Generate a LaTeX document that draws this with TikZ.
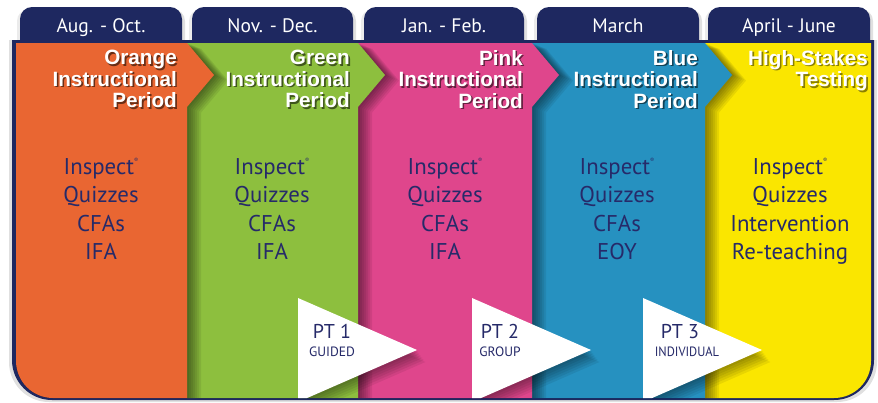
\documentclass[tikz,border=0pt]{standalone}
\usepackage{fontspec}
\setmainfont{PT Sans}
\newfontfamily\titlefont{Liberation Sans}
\definecolor{navy}{RGB}{30,40,96}
\definecolor{txtnavy}{RGB}{38,42,105}
\definecolor{corange}{RGB}{233,102,50}
\definecolor{cgreen}{RGB}{141,191,62}
\definecolor{cpink}{RGB}{223,70,140}
\definecolor{cblue}{RGB}{38,145,192}
\definecolor{cyellow}{RGB}{250,230,0}
\tikzset{
  tabbox/.style={fill=navy, rounded corners=12pt},
  tabtext/.style={text=white, anchor=base, inner sep=0pt, font=\fontsize{19.5}{20}\selectfont},
  titlestyle/.style={anchor=north east, align=right, inner sep=0pt, text=white, font=\titlefont\bfseries\fontsize{20.7}{21.4}\selectfont},
  bodystyle/.style={anchor=north, align=center, inner sep=0pt, text=txtnavy, font=\fontsize{22.8}{28.6}\selectfont},
  ptlabel/.style={anchor=north, align=center, inner sep=0pt, text=txtnavy, font=\fontsize{13.5}{17.5}\selectfont},
}
\newcommand\ptbig[1]{{\fontsize{20}{17.5}\selectfont #1}}
\newcommand\regmark{\raisebox{0.5em}{\fontsize{6}{6}\selectfont ®}}
% a line of title text with a dark shadow under it
\newcommand\shl[2]{\rlap{\hspace{1.6pt}\raisebox{-1.6pt}{\textcolor{#1}{#2}}}#2}
% column shape: left, right
\newcommand\colpath[2]{(#1,43) -- (#2,43) -- (#2+27,75) -- (#2,107) -- (#2,410) -- (#1,410) -- cycle}
\newcommand\colshadow[2]{%
  \foreach \d in {2,4,6,8,10,12,14}{
    \fill[black, opacity=0.075, shift={(\d,\d*0.4)}] \colpath{#1}{#2};
  }}
\newcommand\tripath[1]{(#1,298) -- (#1+119,350) -- (#1,402) -- cycle}
\newcommand\trishadow[1]{%
  \foreach \d in {2,4,6,8,10,12}{
    \fill[black, opacity=0.07, shift={(\d*0.7,\d)}] \tripath{#1};
  }}
\begin{document}
\begin{tikzpicture}[x=1pt,y=-1pt]
\useasboundingbox (0,0) rectangle (878,402);
\fill[white] (0,0) rectangle (878,402);
% tab shadows and tabs
\foreach \a/\b in {20/182,192/353,364/524,537/699,708/870}{
  \fill[black, opacity=0.12, rounded corners=12pt] (\a+3,9) rectangle (\b+3,60);
  \fill[black, opacity=0.08, rounded corners=12pt] (\a-3,9) rectangle (\b-3,60);
}
\fill[tabbox] (20,7) rectangle (182,60);
\fill[tabbox] (192,7) rectangle (353,60);
\fill[tabbox] (364,7) rectangle (524,60);
\fill[tabbox] (537,7) rectangle (699,60);
\fill[tabbox] (708,7) rectangle (870,60);
% frame
\begin{scope}
  \clip (0,40) rectangle (878,402);
  \fill[black, opacity=0.12, rounded corners=40pt] (9,-50) rectangle (877,402);
  \fill[navy, rounded corners=40pt] (12,-50) rectangle (874,400);
\end{scope}
% columns
\begin{scope}
  \clip (0,43) rectangle (878,402);
  \clip[rounded corners=37pt] (16,-50) rectangle (871,398);
  \fill[cyellow] \colpath{705}{890};
  \colshadow{532}{705}
  \fill[cblue] \colpath{532}{705};
  \colshadow{358}{532}
  \fill[cpink] \colpath{358}{532};
  \colshadow{187}{358}
  \fill[cgreen] \colpath{187}{358};
  \colshadow{0}{187}
  \fill[corange] \colpath{0}{187};
  % PT triangles
  \trishadow{298}
  \fill[white] \tripath{298};
  \trishadow{472}
  \fill[white] \tripath{472};
  \trishadow{643}
  \fill[white] \tripath{643};
\end{scope}
% month labels
\node[tabtext] (m1) at (101,32) {Aug. - Oct.};
\node[tabtext] (m2) at (272.5,32) {Nov. - Dec.};
\node[tabtext] (m3) at (444,32) {Jan. - Feb.};
\node[tabtext] (m4) at (618,32) {March};
\node[tabtext] (m5) at (789,32) {April - June};
% period titles
\node[titlestyle] (h1) at (177,50) {\shl{corange!45!black}{Orange}\\\shl{corange!45!black}{Instructional}\\\shl{corange!45!black}{Period}};
\node[titlestyle] (h2) at (350,50) {\shl{cgreen!45!black}{Green}\\\shl{cgreen!45!black}{Instructional}\\\shl{cgreen!45!black}{Period}};
\node[titlestyle] (h3) at (523,50) {\shl{cpink!45!black}{Pink}\\\shl{cpink!45!black}{Instructional}\\\shl{cpink!45!black}{Period}};
\node[titlestyle] (h4) at (698,50) {\shl{cblue!45!black}{Blue}\\\shl{cblue!45!black}{Instructional}\\\shl{cblue!45!black}{Period}};
\node[titlestyle] (h5) at (868,50) {\shl{cyellow!55!black}{High-Stakes}\\\shl{cyellow!55!black}{Testing}};
% body lists
\node[bodystyle] (b1) at (101,158) {Inspect\regmark\\Quizzes\\CFAs\\IFA};
\node[bodystyle] (b2) at (272,158) {Inspect\regmark\\Quizzes\\CFAs\\IFA};
\node[bodystyle] (b3) at (445,158) {Inspect\regmark\\Quizzes\\CFAs\\IFA};
\node[bodystyle] (b4) at (617,158) {Inspect\regmark\\Quizzes\\CFAs\\EOY};
\node[bodystyle] (b5) at (790,158) {Inspect\regmark\\Quizzes\\Intervention\\Re-teaching};
% PT labels
\node[ptlabel] (p1) at (332,324.5) {\ptbig{PT 1}\\GUIDED};
\node[ptlabel] (p2) at (500,324.5) {\ptbig{PT 2}\\GROUP};
\node[ptlabel] (p3) at (687,324.5) {\ptbig{PT 3\kern14pt}\\\scalebox{0.92}[1]{INDIVIDUAL}};
\end{tikzpicture}
\end{document}
